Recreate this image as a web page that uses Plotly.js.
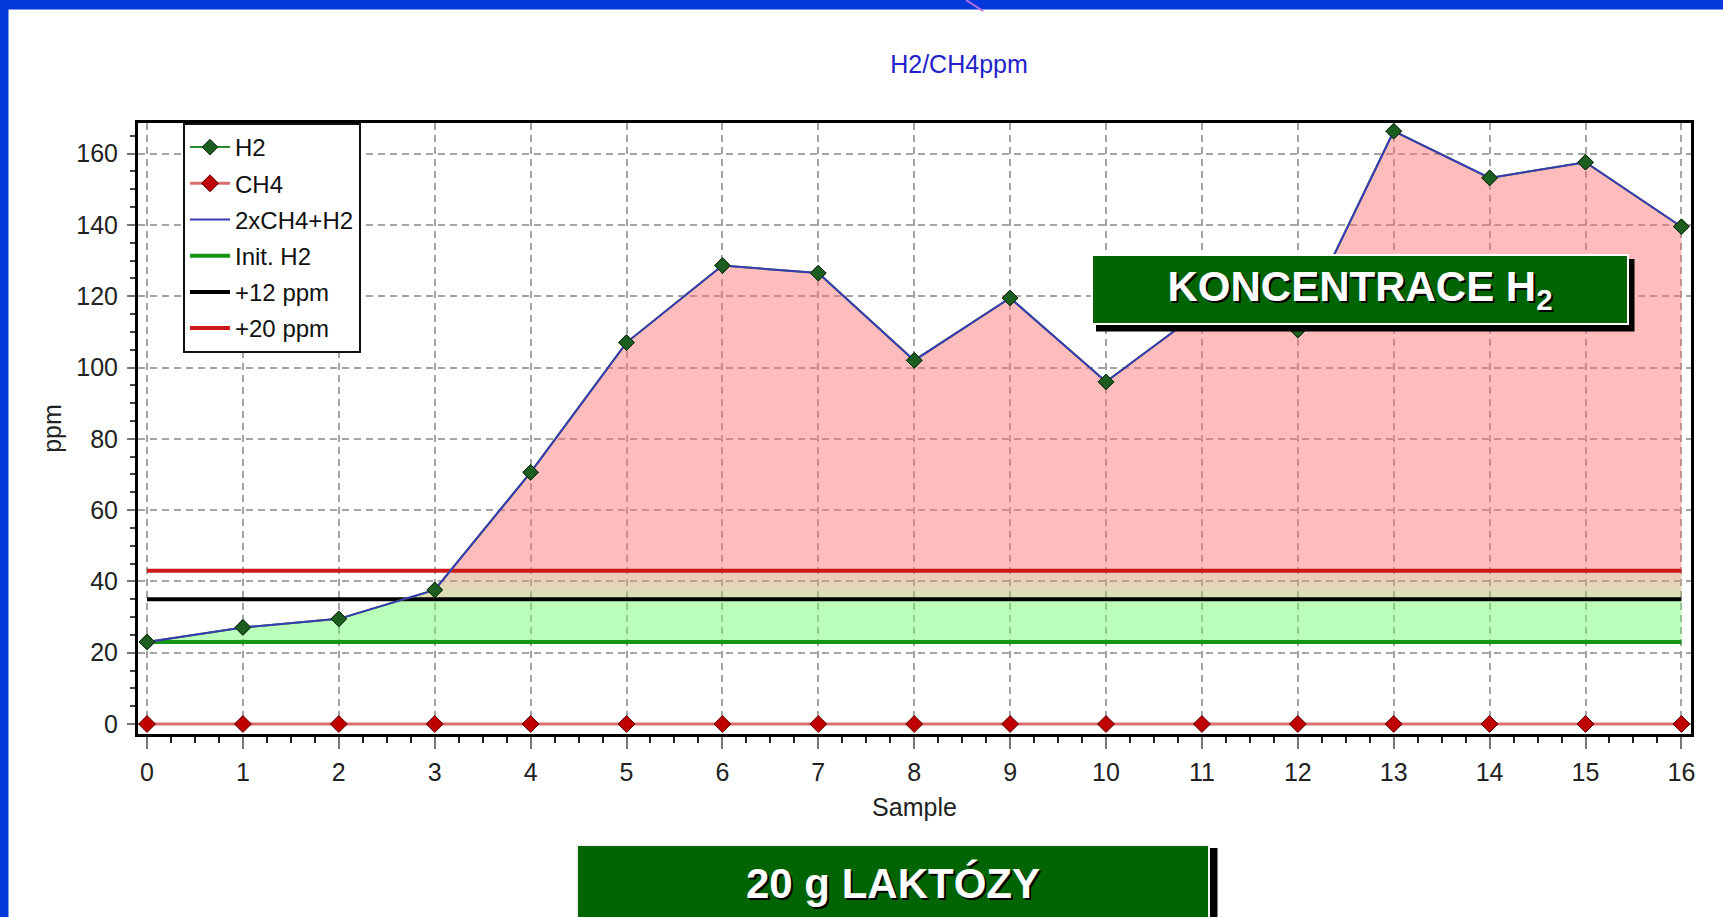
<!DOCTYPE html>
<html><head><meta charset="utf-8">
<script src="https://cdn.plot.ly/plotly-3.0.1.min.js"></script>
<style>html,body{margin:0;padding:0;background:#fff;overflow:hidden}#chart{width:1723px;height:917px}</style>
</head><body><div id="chart"></div>
<script>
// ---- data ----
const samples = [0, 1, 2, 3, 4, 5, 6, 7, 8, 9, 10, 11, 12, 13, 14, 15, 16];
const h2 = [23, 27.1, 29.5, 37.6, 70.6, 107, 128.6, 126.5, 102, 119.5, 96, 116, 110.5, 166.3, 153.2, 157.6, 139.5];
const ch4 = [0, 0, 0, 0, 0, 0, 0, 0, 0, 0, 0, 0, 0, 0, 0, 0, 0];
const ch4x2PlusH2 = [23, 27.1, 29.5, 37.6, 70.6, 107, 128.6, 126.5, 102, 119.5, 96, 116, 110.5, 166.3, 153.2, 157.6, 139.5];
const seriesNames = ['H2', 'CH4', '2xCH4+H2'];
const thresholdNames = ['Init. H2', '+12 ppm', '+20 ppm'];
const thresholdValues = [23, 35, 43];
const titleText = 'H2/CH4ppm';
const xTitle = 'Sample';
const yTitle = 'ppm';
const boxTexts = ['KONCENTRACE H<sub>2</sub>', '20 g LAKTÓZY'];

// ---- layout geometry (pixels) ----
const PL = 138, PR = 1691, PT = 123, PB = 734;
const PW = PR - PL, PH = PB - PT;
const px = v => (v - PL) / PW;
const py = v => (PB - v) / PH;

// clip a polyline to [lo, hi] inserting crossing points (geometry for fills)
function clampPolyline(xs, ys, lo, hi) {
  const cx = [], cy = [];
  const clamp = v => Math.min(Math.max(v, lo), hi);
  for (let i = 0; i < xs.length; i++) {
    if (i > 0) {
      const x0 = xs[i-1], y0 = ys[i-1], x1 = xs[i], y1 = ys[i];
      const cuts = [];
      [lo, hi].forEach(level => {
        if (isFinite(level) && (y0 - level) * (y1 - level) < 0) cuts.push((level - y0) / (y1 - y0));
      });
      cuts.sort((a, b) => a - b).forEach(t => { cx.push(x0 + t * (x1 - x0)); cy.push(clamp(y0 + t * (y1 - y0))); });
    }
    cx.push(xs[i]); cy.push(clamp(ys[i]));
  }
  return {x: cx, y: cy};
}

const xFirst = samples[0], xLast = samples[samples.length - 1];
const traces = [];
function band(lo, hi, style) {
  traces.push({x: [xFirst, xLast], y: [lo, lo], mode: 'lines', line: {width: 0}, showlegend: false, hoverinfo: 'skip'});
  const c = clampPolyline(samples, ch4x2PlusH2, lo, hi);
  traces.push(Object.assign({x: c.x, y: c.y, mode: 'lines', line: {width: 0}, fill: 'tonexty', showlegend: false, hoverinfo: 'skip'}, style));
}
band(thresholdValues[0], thresholdValues[1], {fillcolor: 'rgba(110,255,110,0.48)'});
band(thresholdValues[1], thresholdValues[2], {fillcolor: 'rgba(220,170,130,0.5)',
  fillgradient: {type: 'vertical', start: thresholdValues[1], stop: thresholdValues[2],
    colorscale: [[0, 'rgba(175,200,100,0.5)'], [1, 'rgba(228,140,125,0.5)']]}});
band(thresholdValues[2], Infinity, {fillcolor: 'rgba(255,112,112,0.47)'});

const thrColors = ['#139613', '#000000', '#cc1a1a'];
thresholdValues.forEach((v, i) => {
  traces.push({x: samples, y: samples.map(() => v), mode: 'lines', name: thresholdNames[i],
    line: {color: thrColors[i], width: 4}, legendrank: 4 + i, legendgroup: 'g' + (4 + i)});
});
const h2Marker = {symbol: 'diamond', size: 12, color: '#1b5e20', line: {color: '#0b2a0b', width: 1}};
traces.push({x: samples, y: h2, mode: 'lines+markers', name: seriesNames[0],
  line: {color: '#2a8c2a', width: 2}, marker: h2Marker, legendrank: 1, legendgroup: 'g1'});
traces.push({x: samples, y: ch4x2PlusH2, mode: 'lines', name: seriesNames[2],
  line: {color: '#3a3ab4', width: 2}, legendrank: 3, legendgroup: 'g3'});
traces.push({x: samples, y: h2, mode: 'markers', marker: h2Marker, showlegend: false, hoverinfo: 'skip'});
traces.push({x: samples, y: ch4, mode: 'lines+markers', name: seriesNames[1],
  line: {color: '#dd6e6e', width: 3},
  marker: {symbol: 'diamond', size: 13, color: '#c00000', line: {color: '#5a0000', width: 1}},
  legendrank: 2, legendgroup: 'g2', cliponaxis: false});

const font = 'Liberation Sans, Arial, sans-serif';
const boldFont = {family: font, size: 42, color: '#ffffff', weight: 'bold', shadow: '2px 2px 0px #000'};

const layout = {
  width: 1723, height: 917,
  margin: {l: PL, r: 1723 - PR, t: PT, b: 917 - PB, pad: 0},
  paper_bgcolor: '#ffffff', plot_bgcolor: '#ffffff',
  showlegend: true,
  title: {text: titleText, font: {family: font, size: 25, color: '#2222c8'},
    xref: 'paper', x: px(959), xanchor: 'center', yref: 'container', y: 1 - 64 / 917, yanchor: 'middle'},
  xaxis: {range: [-0.094, 16.1], tick0: 0, dtick: 1, showgrid: true, gridcolor: '#a4a4a4', gridwidth: 2,
    griddash: '7px,5px', zeroline: false, showline: true, linecolor: '#000', linewidth: 3, mirror: true,
    ticks: 'outside', ticklen: 12, tickwidth: 2, tickcolor: '#777',
    minor: {dtick: 0.25, ticks: 'outside', ticklen: 6, tickwidth: 2, tickcolor: '#222', showgrid: false},
    tickfont: {family: font, size: 25, color: '#222'}, ticklabelstandoff: 2,
    title: {text: xTitle, font: {family: font, size: 25, color: '#222'}, standoff: 14}},
  yaxis: {range: [-2.8, 168.6], tick0: 0, dtick: 20, showgrid: true, gridcolor: '#a4a4a4', gridwidth: 2,
    griddash: '7px,5px', zeroline: false, showline: true, linecolor: '#000', linewidth: 3, mirror: true,
    ticks: 'outside', ticklen: 8, tickwidth: 2, tickcolor: '#777',
    minor: {dtick: 5, ticks: 'outside', ticklen: 5, tickwidth: 2, tickcolor: '#444', showgrid: false},
    tickfont: {family: font, size: 25, color: '#222'}, ticklabelstandoff: 4,
    title: {text: yTitle, font: {family: font, size: 25, color: '#222'}, standoff: 8}},
  legend: {x: px(183), y: 1, xanchor: 'left', yanchor: 'top', bgcolor: '#ffffff', bordercolor: '#111',
    borderwidth: 2, font: {family: font, size: 24, color: '#111'}, traceorder: 'grouped', tracegroupgap: 2,
    itemwidth: 40},
  shapes: [
    // blue slide frame
    {type: 'rect', xref: 'paper', yref: 'paper', x0: px(0), x1: px(1723), y0: py(9.5), y1: py(-2), fillcolor: '#0538da', line: {width: 0}},
    {type: 'rect', xref: 'paper', yref: 'paper', x0: px(-2), x1: px(8.5), y0: py(920), y1: py(0), fillcolor: '#0538da', line: {width: 0}},
    {type: 'line', xref: 'paper', yref: 'paper', x0: px(966), x1: px(983), y0: py(0), y1: py(11), line: {color: '#b46be6', width: 2}},
    // box shadows
    {type: 'rect', xref: 'paper', yref: 'paper', x0: px(1096), x1: px(1634.5), y0: py(331.5), y1: py(259), fillcolor: '#000', line: {width: 0}},
    {type: 'rect', xref: 'paper', yref: 'paper', x0: px(582), x1: px(1217.5), y0: py(930), y1: py(848), fillcolor: '#000', line: {width: 0}}
  ],
  annotations: [
    {xref: 'paper', yref: 'paper', x: px(1359.7), y: py(289.5), xanchor: 'center', yanchor: 'middle',
      text: boxTexts[0], showarrow: false, width: 534, height: 67, bgcolor: '#006400',
      bordercolor: '#ffffff', borderwidth: 2, borderpad: 0, font: boldFont},
    {xref: 'paper', yref: 'paper', x: px(893), y: py(882.5), xanchor: 'center', yanchor: 'middle',
      text: boxTexts[1], showarrow: false, width: 630, height: 73, bgcolor: '#006400',
      bordercolor: '#f4f4f4', borderwidth: 2, borderpad: 0, font: boldFont}
  ]
};

Plotly.newPlot('chart', traces, layout, {staticPlot: true, displayModeBar: false});
</script></body></html>
